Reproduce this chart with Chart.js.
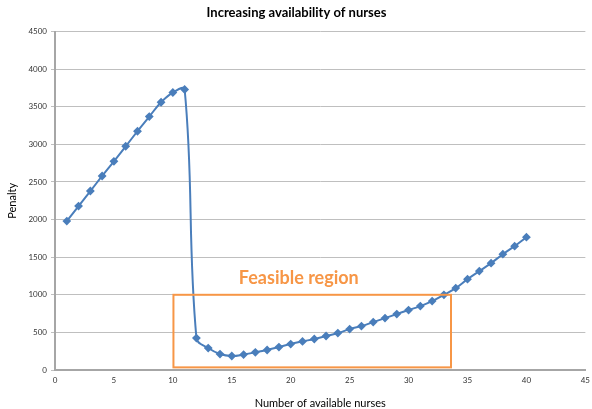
<!DOCTYPE html>
<html lang="en">
  <head>
    <meta charset="utf-8" />
    <title>Increasing availability of nurses</title>
    <script src="https://cdn.jsdelivr.net/npm/chart.js@4.4.0/dist/chart.umd.min.js"></script>
    <style>
      html, body { margin: 0; padding: 0; background: #fff; }
      #wrap { width: 592px; height: 409px; }
    </style>
  </head>
  <body>
    <div id="wrap"><canvas id="myChart" width="592" height="409"></canvas></div>
    <script>
      // nurses available vs penalty
      const nurses = [1, 2, 3, 4, 5, 6, 7, 8, 9, 10, 11, 12, 13, 14, 15, 16, 17, 18, 19, 20,
        21, 22, 23, 24, 25, 26, 27, 28, 29, 30, 31, 32, 33, 34, 35, 36, 37, 38, 39, 40];
      const penalty = [1980, 2180, 2380, 2580, 2775, 2975, 3175, 3370, 3560, 3690,
        3730, 425, 292, 212, 186, 205, 235, 266, 305, 345,
        380, 412, 452, 491, 544, 584, 637, 690, 744, 797,
        850, 916, 1000, 1089, 1208, 1315, 1421, 1540, 1647, 1766];
      const xTicks = [0, 5, 10, 15, 20, 25, 30, 35, 40, 45];
      const yTicks = [0, 500, 1000, 1500, 2000, 2500, 3000, 3500, 4000, 4500];

      // feasible region box (x from..to, y from..to) and its label position
      const regionX = [10.05, 33.6];
      const regionY = [35, 1000];
      const regionLabel = "Feasible region";
      const regionLabelAt = [15.6, 1220];

      const blue = "#4a7ebb";
      const orange = "#f79646";

      const feasibleRegion = {
        id: "feasibleRegion",
        afterDatasetsDraw(chart) {
          const { ctx, scales: { x, y } } = chart;
          const x0 = x.getPixelForValue(regionX[0]);
          const x1 = x.getPixelForValue(regionX[1]);
          const y0 = y.getPixelForValue(regionY[1]);
          const y1 = y.getPixelForValue(regionY[0]);
          ctx.save();
          ctx.strokeStyle = orange;
          ctx.lineWidth = 2;
          ctx.strokeRect(x0, y0, x1 - x0, y1 - y0);
          ctx.fillStyle = orange;
          ctx.font = "bold 18px Lato, 'Open Sans', sans-serif";
          ctx.textBaseline = "middle";
          ctx.fillText(regionLabel, x.getPixelForValue(regionLabelAt[0]), y.getPixelForValue(regionLabelAt[1]));
          ctx.restore();
        },
      };

      const ctx = document.getElementById("myChart").getContext("2d");
      new Chart(ctx, {
        type: "line",
        data: {
          datasets: [
            {
              label: "Penalty",
              data: nurses.map((n, i) => ({ x: n, y: penalty[i] })),
              borderColor: blue,
              backgroundColor: blue,
              borderWidth: 2,
              pointStyle: "rectRot",
              pointRadius: 3,
              pointHoverRadius: 3,
              tension: 0.4,
              fill: false,
            },
          ],
        },
        options: {
          responsive: false,
          animation: false,
          layout: { padding: { left: 4, right: 3, top: 0, bottom: 0 } },
          plugins: {
            legend: { display: false },
            tooltip: { enabled: false },
            title: {
              display: true,
              text: "Increasing availability of nurses",
              color: "#000",
              font: { family: "Lato, 'Open Sans', sans-serif", size: 13, weight: "bold" },
              padding: { top: 5, bottom: 11 },
            },
          },
          scales: {
            x: {
              type: "linear",
              min: 0,
              max: 45,
              afterBuildTicks: (s) => { s.ticks = xTicks.map((v) => ({ value: v })); },
              afterFit: (s) => { s.height = 39; },
              grid: { display: false, drawOnChartArea: false, tickLength: 4, color: "#a6a6a6" },
              border: { color: "#a6a6a6", width: 2 },
              ticks: { color: "#333", font: { family: "Lato, sans-serif", size: 8 }, maxRotation: 0, padding: 2 },
              title: {
                display: true,
                text: "Number of available nurses",
                color: "#000",
                font: { family: "Lato, 'Open Sans', sans-serif", size: 11, lineHeight: 1 },
                padding: { top: 0, bottom: 0 },
              },
            },
            y: {
              min: 0,
              max: 4500,
              afterBuildTicks: (s) => { s.ticks = yTicks.map((v) => ({ value: v })); },
              afterFit: (s) => { s.width = 51; },
              grid: { color: "#bfbfbf", tickLength: 4, lineWidth: 1 },
              border: { color: "#a6a6a6", width: 2 },
              ticks: {
                color: "#333",
                font: { family: "Lato, sans-serif", size: 8 },
                padding: 4,
                callback: (v) => String(v),
              },
              title: {
                display: true,
                text: "Penalty",
                color: "#000",
                font: { family: "Lato, 'Open Sans', sans-serif", size: 11 },
                padding: { top: 2, bottom: 6 },
              },
            },
          },
        },
        plugins: [feasibleRegion],
      });
    </script>
  </body>
</html>
